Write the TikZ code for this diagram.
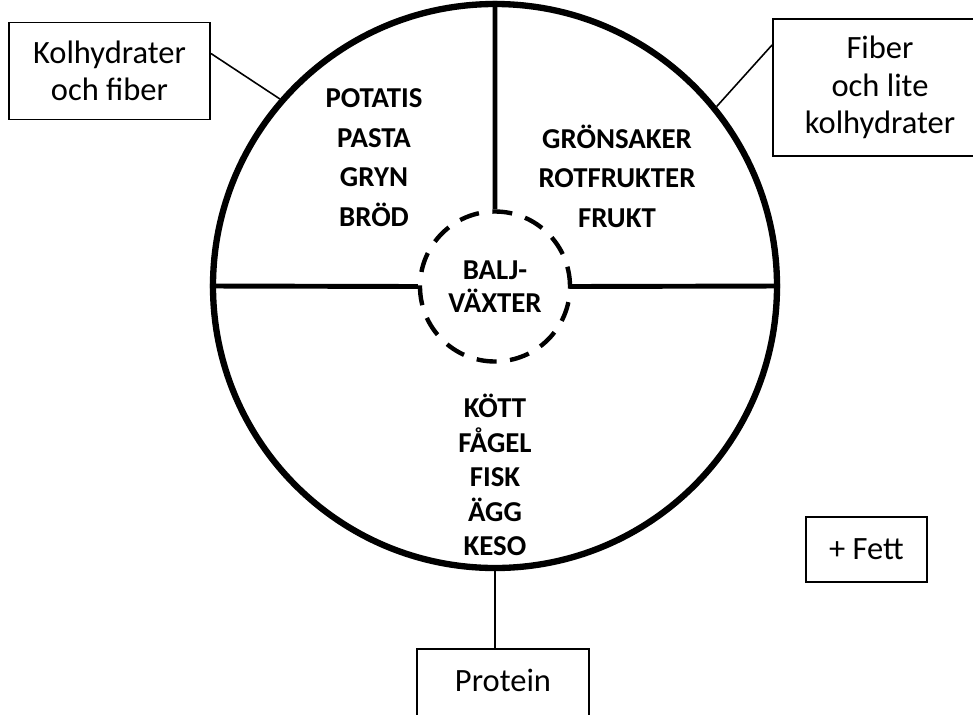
\documentclass[tikz,border=0pt]{standalone}
\usepackage{fontspec}
\setmainfont{Carlito}
\usepackage{tikz}

\begin{document}
\begin{tikzpicture}[
  box/.style = {draw, line width=1.1pt, align=center, inner sep=0pt,
                font=\fontsize{18.5}{21.3}\selectfont},
  food/.style = {align=center, inner sep=0pt, font=\bfseries\fontsize{16.4}{22.5}\selectfont},
  wire/.style = {line width=0.9pt},
  split/.style = {line width=2.8pt}
]
\useasboundingbox (-9.9, -8.56) rectangle (9.56, 5.72);
% the plate and the inner circle
\node[draw, circle, line width=3.6pt, minimum size=11.28cm] (plate) at (0, 0) {};
\node[draw, circle, line width=2.5pt, dash pattern=on 0.4cm off 0.27cm, minimum size=3cm,
      align=center, font=\bfseries\fontsize{16.4}{18.7}\selectfont] (balj) at (0, -0.01) {BALJ-\\VÄXTER};
\draw[split] (plate.north) -- (balj.north)
(plate.west) -- (balj.west)
(plate.east) -- (balj.east);
% food groups
\draw (-2.42, 2.57) node[food] (kolhmat) {POTATIS\\PASTA\\GRYN\\BRÖD};
\draw (2.44, 2.2) node[food] (fibermat) {GRÖNSAKER\\ROTFRUKTER\\FRUKT};
\draw (0, -3.78) node[food, font=\bfseries\fontsize{16.4}{19.6}\selectfont] (protmat) {KÖTT\\FÅGEL\\FISK\\ÄGG\\KESO};
% boxes
\node[box, minimum width=4.02cm, minimum height=1.94cm] (kolh) at (-7.71, 4.3) {Kolhydrater\\och fiber};
\node[box, minimum width=4.28cm, minimum height=2.74cm] (fiber) at (7.7, 3.97) {Fiber\\och lite\\kolhydrater};
\node[box, minimum width=2.42cm, minimum height=1.3cm] (fett) at (7.43, -5.27) {+ Fett};
\node[box, minimum width=3.44cm, minimum height=1.45cm, anchor=north, text depth=0.2cm] (prot) at (0.16, -7.24) {Protein};
\draw[wire] ([yshift=0.35cm]kolh.east) -- (plate.139.4);
\draw[wire] ([yshift=0.85cm]fiber.west) -- (plate.39.4);
\draw[wire] (plate.south) -- (plate.south |- prot.north);
\end{tikzpicture}
\end{document}
